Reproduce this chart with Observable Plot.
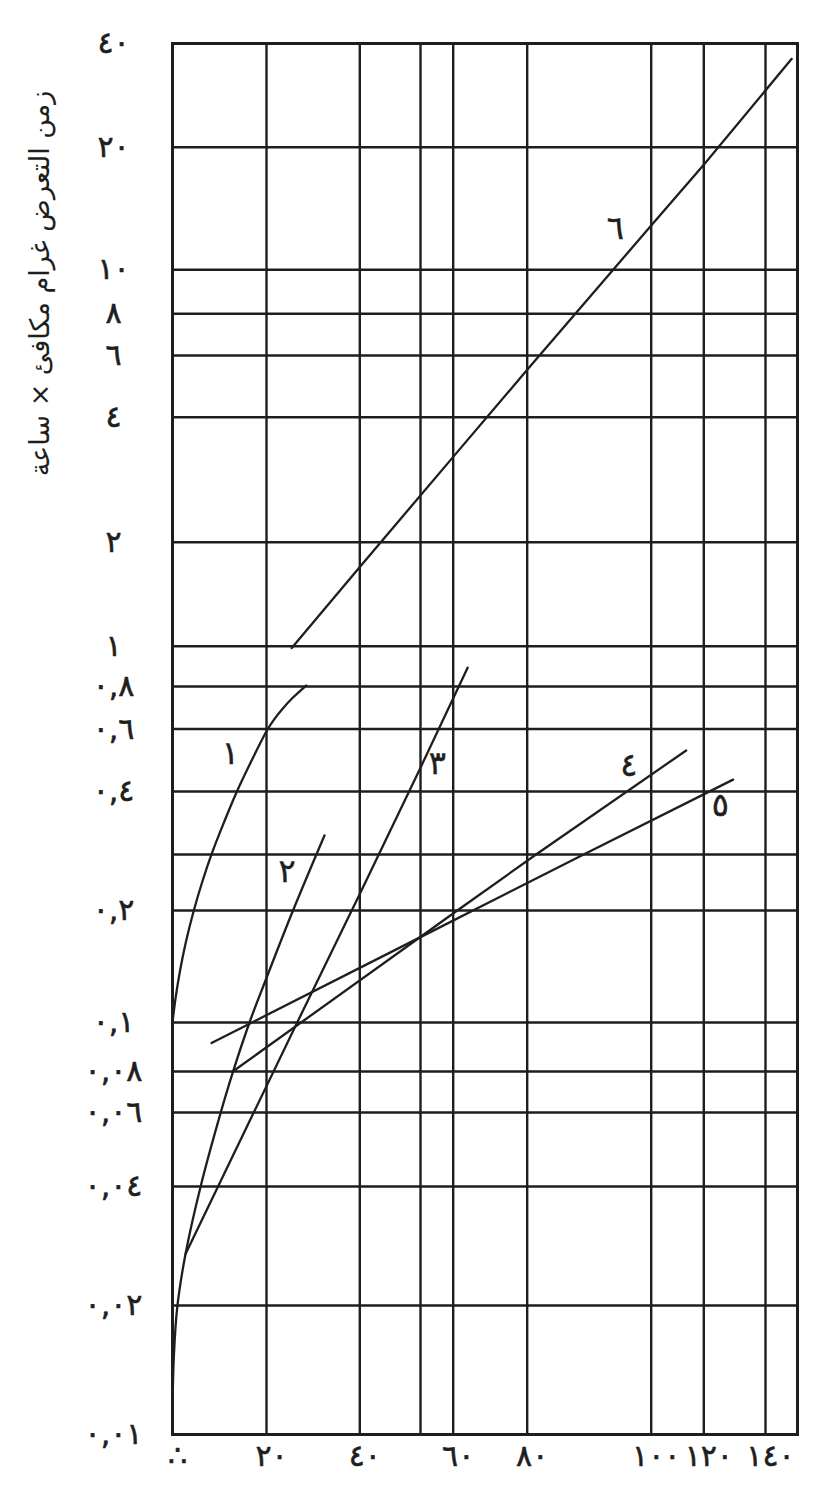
<!DOCTYPE html>
<html><head><meta charset="utf-8">
<script src="https://cdn.jsdelivr.net/npm/d3@7"></script>
<script src="https://cdn.jsdelivr.net/npm/@observablehq/plot@0.6"></script>
<style>html,body{margin:0;padding:0;background:#fff} #chart svg{display:block}</style>
</head><body><div id="chart"></div>
<script>
// ---- text ----
const yTitle = "زمن التعرض غرام مكافئ × ساعة";

// ---- x axis (irregular graph paper) ----
const xTickValues = [0, 20, 40, 60, 80, 100, 120, 140];
const xTickLabels = ["∴", "٢٠", "٤٠", "٦٠", "٨٠", "١٠٠", "١٢٠", "١٤٠"];
const xGridValues = [20, 40, 53, 60, 80, 100, 120, 140];

// ---- y axis (log graph paper) ----
const yTickValues = [0.01, 0.02, 0.04, 0.06, 0.08, 0.1, 0.2, 0.4, 0.6, 0.8, 1, 2, 4, 6, 8, 10, 20, 40];
const yTickLabels = ["٠,٠١", "٠,٠٢", "٠,٠٤", "٠,٠٦", "٠,٠٨", "٠,١", "٠,٢", "٠,٤", "٠,٦", "٠,٨", "١", "٢", "٤", "٦", "٨", "١٠", "٢٠", "٤٠"];
const yGridValues = [0.02, 0.04, 0.06, 0.08, 0.1, 0.2, 0.3, 0.4, 0.6, 0.8, 1, 2, 4, 6, 8, 10, 20];

// ---- curves ----
const curve1X = [0, 0.668, 1.613, 2.826, 4.534, 6.289, 8.368, 10.885, 13.611, 16.83, 20.146, 21.61, 23.45, 25.67, 28.51];
const curve1Y = [0.1, 0.1167, 0.138, 0.1641, 0.2, 0.2449, 0.3014, 0.3462, 0.3983, 0.4888, 0.5961, 0.6395, 0.6884, 0.7425, 0.8044];

const curve2X = [0, 0.28, 1.0, 2.77, 5.96, 10.21, 12.83, 16.38, 19.79, 25.68, 32.43];
const curve2Y = [0.0115, 0.01513, 0.01978, 0.027, 0.0399, 0.0597, 0.0795, 0.1, 0.1297, 0.2, 0.3273];

const curve3X = [2.77, 17.23, 26.58, 40.15, 53.0, 63.9];
const curve3Y = [0.027, 0.0598, 0.1, 0.2278, 0.467, 0.888];

const curve4X = [12.9, 61.1, 81.6, 113.3];
const curve4Y = [0.0801, 0.2, 0.301, 0.522];

const curve5X = [8.3, 53.0, 89.1, 129.5];
const curve5Y = [0.0911, 0.1696, 0.3, 0.432];

const curve6X = [25.4, 40, 60, 80, 100, 120.2, 148.2];
const curve6Y = [0.99, 1.696, 3.21, 5.46, 12.85, 18.2, 36.1];

// ---- curve labels ----
const curveLabels = ["١", "٢", "٣", "٤", "٥", "٦"];
const curveLabelX = [12.3, 24.4, 56.6, 96.4, 125.4, 94.2];
const curveLabelY = [0.512, 0.264, 0.479, 0.473, 0.375, 12.6];

// ---- build tables ----
const zip = (xs, ys) => xs.map((x, i) => ({x, y: ys[i]}));
const smoothCurves = [zip(curve1X, curve1Y), zip(curve2X, curve2Y)];
const straightCurves = [zip(curve3X, curve3Y), zip(curve4X, curve4Y), zip(curve5X, curve5Y), zip(curve6X, curve6Y)];
const xTicks = xTickValues.map((v, i) => ({v, label: xTickLabels[i]}));
const yTicks = yTickValues.map((v, i) => ({v, label: yTickLabels[i]}));
const labels = curveLabels.map((t, i) => ({t, x: curveLabelX[i], y: curveLabelY[i]}));

const INK = "#1e1e1e";
const FONT = "DejaVu Sans";

const chart = Plot.plot({
  width: 834,
  height: 1494,
  marginLeft: 172,
  marginRight: 37,
  marginTop: 43,
  marginBottom: 60,
  style: {fontFamily: FONT, background: "#fff", color: INK},
  x: {type: "linear", axis: null,
      domain: [0, 20, 40, 60, 80, 100, 120, 140, 150],
      range: [172, 266, 359.3, 452.7, 526.7, 650.7, 703.3, 765, 797]},
  y: {type: "log", axis: null,
      domain: [0.01, 0.02, 0.04, 0.06, 0.08, 0.1, 0.2, 0.3, 0.4, 0.6, 0.8, 1, 2, 4, 6, 8, 10, 20, 40],
      range: [1434, 1305, 1186, 1112, 1071, 1022, 910, 854, 791, 728.5, 686, 645.7, 541.7, 416.7, 355, 313.3, 269.3, 146.7, 43]},
  marks: [
    Plot.ruleX(xGridValues, {stroke: INK, strokeWidth: 2.4}),
    Plot.ruleY(yGridValues, {stroke: INK, strokeWidth: 2.4}),
    Plot.frame({stroke: INK, strokeWidth: 3}),
    ...smoothCurves.map(d => Plot.line(d, {x: "x", y: "y", stroke: INK, strokeWidth: 2.3, curve: "catmull-rom"})),
    ...straightCurves.map(d => Plot.line(d, {x: "x", y: "y", stroke: INK, strokeWidth: 2.3})),
    Plot.text(labels, {x: "x", y: "y", text: "t", fontSize: 32, fill: INK, stroke: INK, strokeWidth: 0.5}),
    Plot.text(yTicks, {y: "v", text: "label", frameAnchor: "left", dx: -59, textAnchor: "middle", fontSize: 30, fill: INK, stroke: INK, strokeWidth: 0.6}),
    Plot.text(xTicks, {x: "v", text: "label", frameAnchor: "bottom", dx: 5, dy: 31, textAnchor: "middle", fontSize: 30, fill: INK, stroke: INK, strokeWidth: 0.6}),
    Plot.text([yTitle], {frameAnchor: "top-left", dx: -143, dy: 240, rotate: -90, textAnchor: "middle", fontSize: 27, fill: INK})
  ]
});
document.getElementById("chart").append(chart);
</script>
</body></html>
